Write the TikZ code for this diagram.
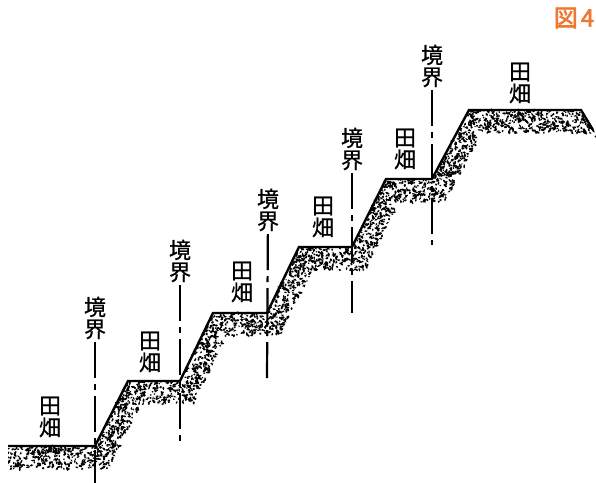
\documentclass[tikz,border=0pt]{standalone}
\usepackage{fontspec}
\newfontfamily\cjk[FakeBold=0.8]{Noto Sans CJK JP}
\newfontfamily\cjkbold[FakeBold=2.5]{Noto Sans CJK JP}
\usetikzlibrary{positioning}
\definecolor{figorange}{RGB}{238,120,50}
\let\soildx\relax
\let\soildy\relax
\let\lineend\relax
\newcommand{\soildx}{12}
\newcommand{\soildy}{21}
\newcommand{\lineend}{66pt}
\tikzstyle{field}=[font=\cjk\fontsize{22}{22}\selectfont,align=center,inner sep=0pt]
\tikzstyle{border}=[field,outer sep=3pt]
\tikzstyle{boundary}=[line width=2.2pt,dash pattern=on 36pt off 6pt on 6pt off 6pt]
\tikzstyle{ground}=[line width=2.4pt,line join=miter]
\tikzstyle{figlabel}=[font=\cjkbold\fontsize{24}{24}\selectfont,text=figorange,inner sep=0pt]

\begin{document}
\begin{tikzpicture}[x=1pt,y=-1pt]
\useasboundingbox (0,0) rectangle (596,482);

% step corners of the ground line
\coordinate (s0) at (8,446);
\coordinate (s1) at (95,446);
\coordinate (s2) at (128,381);
\coordinate (s3) at (180,381);
\coordinate (s4) at (213,313);
\coordinate (s5) at (267,313);
\coordinate (s6) at (299,247);
\coordinate (s7) at (352,247);
\coordinate (s8) at (386,179);
\coordinate (s9) at (432,179);
\coordinate (s10) at (469,110);
\coordinate (s11) at (581,110);
\coordinate (s12) at (593,130);

% stippled soil under the ground line
\pgfmathsetseed{7}
\begin{scope}
\clip (8,0) rectangle (596,482);
\foreach \ax/\ay/\bx/\by/\n in {-4/446/95/446/300, 95/446/128/381/250,
    128/381/180/381/175, 180/381/213/313/250, 213/313/267/313/180,
    267/313/299/247/250, 299/247/352/247/180, 352/247/386/179/250,
    386/179/432/179/160, 432/179/469/110/265, 469/110/581/110/380,
    581/110/593/130/12}{
  \foreach \k in {1,...,\n}{
    \pgfmathsetmacro\pa{rnd}
    \pgfmathsetmacro\pb{rnd*1.1}
    \pgfmathsetmacro\px{\ax+\pa*(\bx-\ax)+\pb*\soildx}
    \pgfmathsetmacro\py{\ay+\pa*(\by-\ay)+\pb*\soildy}
    \pgfmathsetmacro\rr{rnd*180}
    \pgfmathsetmacro\ra{0.8+rnd*1.5}
    \pgfmathsetmacro\rb{0.7+rnd*0.5}
    \fill[shift={(\px,\py)},rotate=\rr] (0,0) ellipse [x radius=\ra pt, y radius=\rb pt];
  }
}
\end{scope}

% labels
\node [field] (f1) at (50,417) {田\\畑};
\node [field] (f2) at (150,352) {田\\畑};
\node [field] (f3) at (242,282) {田\\畑};
\node [field] (f4) at (323,217) {田\\畑};
\node [field] (f5) at (405,149) {田\\畑};
\node [field] (f6) at (520,83) {田\\畑};

\node [border] (k1) at (95,318) {境\\界};
\node [border] (k2) at (180,261) {境\\界};
\node [border] (k3) at (268,210) {境\\界};
\node [border] (k4) at (352,149) {境\\界};
\node [border] (k5) at (432,66) {境\\界};

\node [figlabel] (fig) at (574,18) {図\hspace{3pt}4};

% boundary lines
\coordinate [below=\lineend of s1] (e1);
\coordinate [below=\lineend of s3] (e2);
\coordinate [below=\lineend of s5] (e3);
\coordinate [below=\lineend of s7] (e4);
\coordinate [below=\lineend of s9] (e5);
\draw [boundary] (k1) -- (e1);
\draw [boundary] (k2) -- (e2);
\draw [boundary] (k3) -- (e3);
\draw [boundary] (k4) -- (e4);
\draw [boundary] (k5) -- (e5);

\draw [ground] (s0) -- (s1) -- (s2) -- (s3) -- (s4) -- (s5) -- (s6)
      -- (s7) -- (s8) -- (s9) -- (s10) -- (s11) -- (s12);
\end{tikzpicture}
\end{document}
